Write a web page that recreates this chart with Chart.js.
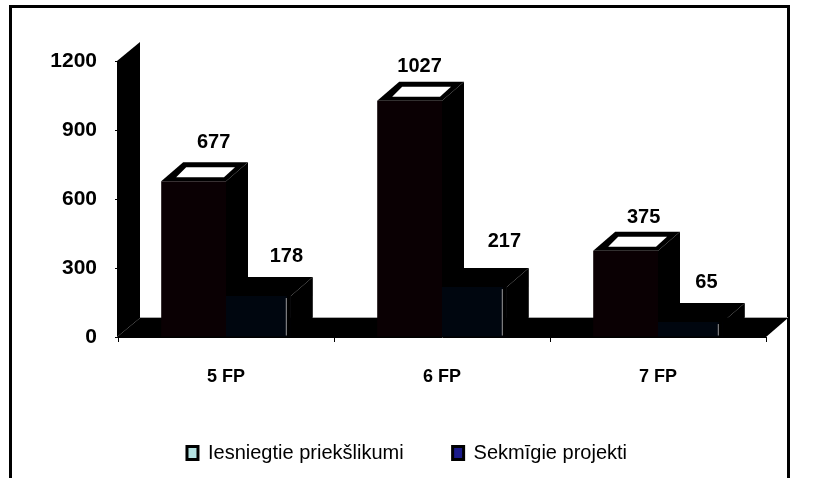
<!DOCTYPE html>
<html><head><meta charset="utf-8">
<style>
html,body{margin:0;padding:0;background:#fff;overflow:hidden}
#wrap{position:relative;width:817px;height:478px}
#frame{position:absolute;left:9px;top:5px;width:775px;height:490px;border:3px solid #000;box-sizing:content-box}
canvas{position:absolute;left:0;top:0}
</style>
<script src="https://cdn.jsdelivr.net/npm/chart.js@4/dist/chart.umd.min.js"></script>
</head><body>
<div id="wrap"><div id="frame"></div><canvas id="c" width="817" height="478"></canvas></div>
<script>
const categories = ["5 FP", "6 FP", "7 FP"];
const submitted = [677, 1027, 375];
const successful = [178, 217, 65];
const seriesNames = ["Iesniegtie priekšlikumi", "Sekmīgie projekti"];
const yTicks = [0, 300, 600, 900, 1200];
const DX = 22, DY = 19;
const FONT = '"Liberation Sans", Arial, sans-serif';

function poly(ctx, pts, fill) {
  ctx.beginPath();
  pts.forEach((p, i) => i ? ctx.lineTo(p[0], p[1]) : ctx.moveTo(p[0], p[1]));
  ctx.closePath();
  ctx.fillStyle = fill;
  ctx.fill();
}
function line(ctx, x1, y1, x2, y2, color) {
  ctx.beginPath();
  ctx.moveTo(x1, y1);
  ctx.lineTo(x2, y2);
  ctx.strokeStyle = color;
  ctx.lineWidth = 1;
  ctx.stroke();
}

const bars3d = {
  id: 'bars3d',
  beforeDatasetsDraw(chart) {
    const { ctx, chartArea: a } = chart;
    const y0 = a.bottom, yT = a.top, L = a.left, R = a.right;
    ctx.save();
    poly(ctx, [[L - 1, y0], [L - 1, yT], [L + DX, yT - DY], [L + DX, y0 - DY]], '#000');
    poly(ctx, [[L - 1, y0], [L + DX, y0 - DY], [R + DX, y0 - DY], [R, y0]], '#000');
    line(ctx, L + DX, y0 - DY - 0.5, R + DX, y0 - DY - 0.5, '#aaa');
    [0, 1].forEach(di => {
      chart.getDatasetMeta(di).data.forEach((b) => {
        const hw = b.width / 2, l = b.x - hw, r = b.x + hw, t = b.y, bt = b.base;
        poly(ctx, [[r, t], [r + DX, t - DY], [r + DX, bt - DY], [r, bt]], '#000');
        poly(ctx, [[l, t], [l + DX, t - DY], [r + DX, t - DY], [r, t]], '#000');
        if (di === 0) {
          poly(ctx, [[l + 15, t - 4], [l + 25, t - 14], [r + 9, t - 14], [r - 2, t - 4]], '#fff');
        }
      });
    });
    ctx.restore();
  },
  afterDatasetsDraw(chart) {
    const { ctx } = chart;
    const nudge = [[[20, 33], [10, 29], [18, 28]], [[28, 34], [30, 40], [16, 34]]];
    ctx.save();
    chart.getDatasetMeta(1).data.forEach((b) => {
      const r = b.x + b.width / 2 - 4;
      poly(ctx, [[r, b.y], [r + 4, b.y], [r + 4, b.base], [r, b.base]], '#000');
      line(ctx, r - 0.5, b.y + 2, r - 0.5, b.base - 1, '#999');
    });
    ctx.fillStyle = '#000';
    ctx.font = 'bold 20px ' + FONT;
    ctx.textAlign = 'center';
    ctx.textBaseline = 'alphabetic';
    chart.data.datasets.forEach((ds, di) => {
      chart.getDatasetMeta(di).data.forEach((b, i) => {
        ctx.fillText(String(ds.data[i]), b.x + nudge[di][i][0], b.y - nudge[di][i][1]);
      });
    });
    ctx.restore();
  }
};

new Chart(document.getElementById('c'), {
  type: 'bar',
  data: {
    labels: categories,
    datasets: [
      { label: seriesNames[0], data: submitted, backgroundColor: '#0a0003', borderWidth: 0 },
      { label: seriesNames[1], data: successful, backgroundColor: '#00060f', borderWidth: 0 }
    ]
  },
  plugins: [bars3d],
  options: {
    responsive: false,
    animation: false,
    layout: { padding: { left: 48, right: 51, top: 61, bottom: 5 } },
    plugins: {
      tooltip: { enabled: false },
      legend: {
        position: 'bottom',
        labels: {
          font: { family: FONT, size: 20 },
          color: '#000',
          boxWidth: 11, boxHeight: 13,
          padding: 49,
          generateLabels() {
            return seriesNames.map((n, i) => ({
              text: n,
              fillStyle: i ? '#1b1b8a' : '#b4e2e2',
              strokeStyle: '#000',
              lineWidth: 3,
              datasetIndex: i
            }));
          }
        }
      }
    },
    scales: {
      x: {
        offset: true,
        grid: { display: true, offset: true, drawOnChartArea: false, tickLength: 5, tickColor: '#000' },
        border: { display: true, color: '#000', width: 1 },
        ticks: { color: '#000', font: { family: FONT, size: 18, weight: 'bold' }, padding: 24, maxRotation: 0 },
        afterFit(s) { s.height = 57; }
      },
      y: {
        min: 0, max: 1200,
        afterBuildTicks(s) { s.ticks = yTicks.map(v => ({ value: v })); },
        grid: { display: true, drawOnChartArea: false, tickLength: 3, tickColor: '#000' },
        border: { display: false },
        ticks: { color: '#000', font: { family: FONT, size: 21, weight: 'bold' }, padding: 18, callback: v => String(v) },
        afterFit(s) { s.width = 70; }
      }
    },
    datasets: { bar: { categoryPercentage: 0.6, barPercentage: 1 } }
  }
});
</script>
</body></html>
